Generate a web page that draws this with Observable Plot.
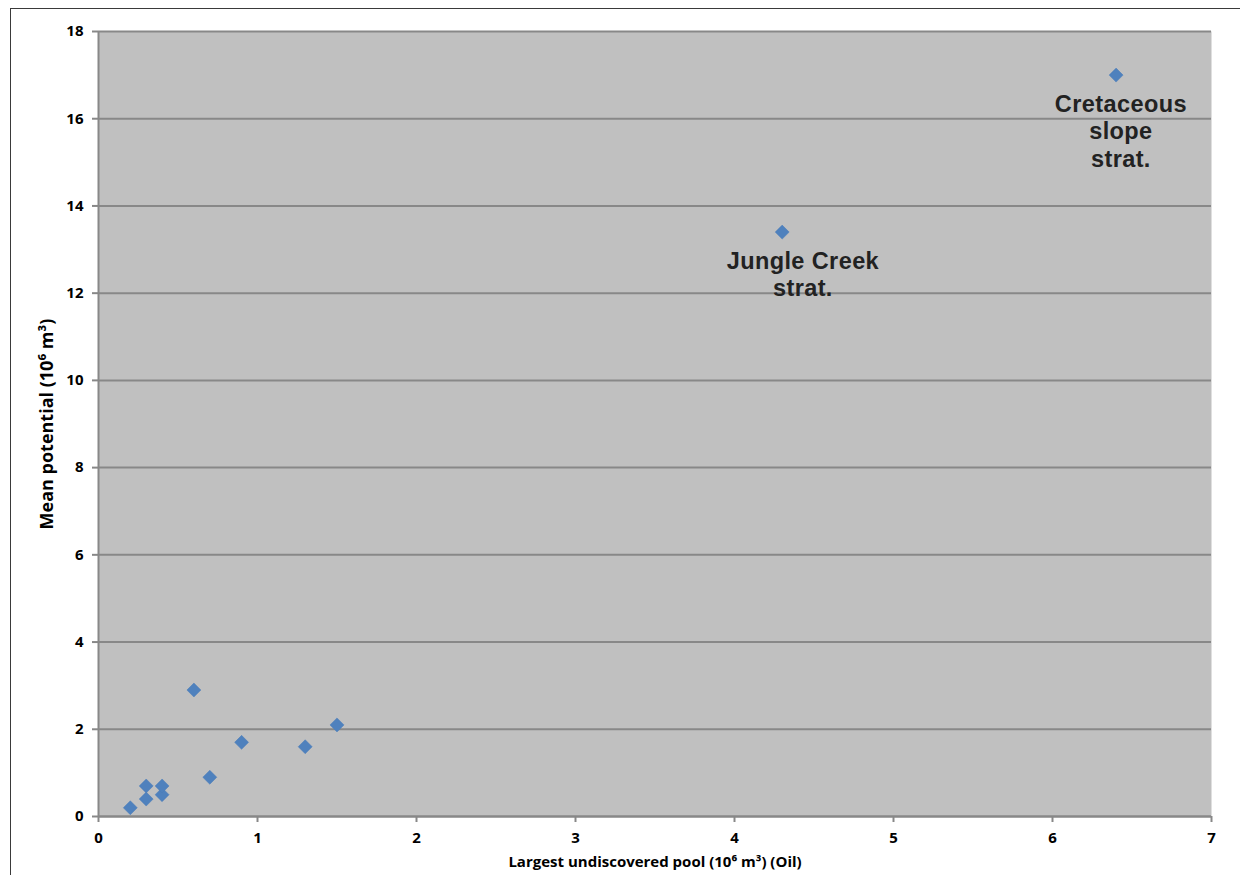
<!DOCTYPE html>
<html>
<head>
<meta charset="utf-8">
<script src="https://cdn.jsdelivr.net/npm/d3@7"></script>
<script src="https://cdn.jsdelivr.net/npm/@observablehq/plot@0.6"></script>
<style>
  html, body { margin: 0; padding: 0; background: #fff; overflow: hidden; }
  #wrap { position: relative; width: 1240px; height: 875px; }
  #frame { position: absolute; left: 10px; top: 8px; width: 1300px; height: 950px; border: 1.5px solid #3a3a3a; box-sizing: border-box; }
  #chart { position: absolute; left: 0; top: 0; }
  .ptlabel text { letter-spacing: 0.4px; }
</style>
</head>
<body>
<div id="wrap"><div id="frame"></div><div id="chart"></div></div>
<script>
// Data
const largestPool = [0.2, 0.3, 0.3, 0.4, 0.4, 0.7, 0.6, 0.9, 1.3, 1.5, 4.3, 6.4];
const meanPotential = [0.2, 0.4, 0.7, 0.5, 0.7, 0.9, 2.9, 1.7, 1.6, 2.1, 13.4, 17.0];

const labelNames = ["Jungle Creek\nstrat.", "Cretaceous\nslope\nstrat."];
const labelX = [4.43, 6.43];
const labelY = [13.4, 17.0];

const xTicks = [0, 1, 2, 3, 4, 5, 6, 7];
const yTicks = [0, 2, 4, 6, 8, 10, 12, 14, 16, 18];

const xTitle = "Largest undiscovered pool (10\u2076 m\u00B3) (Oil)";
const yTitle = "Mean potential (10\u2076 m\u00B3)";

const points = largestPool.map((x, i) => ({x, y: meanPotential[i]}));
const labels = labelNames.map((t, i) => ({text: t, x: labelX[i], y: labelY[i]}));

const font = "'Open Sans', 'DejaVu Sans', sans-serif";
const grey = "#888888";

const chart = Plot.plot({
  width: 1240,
  height: 875,
  marginLeft: 98,
  marginRight: 29,
  marginTop: 31,
  marginBottom: 59,
  style: {fontFamily: font, background: "transparent", overflow: "visible"},
  x: {domain: [0, 7]},
  y: {domain: [0, 18]},
  marks: [
    Plot.frame({fill: "#c0c0c0", stroke: null}),
    Plot.gridY(yTicks, {stroke: grey, strokeOpacity: 1, strokeWidth: 2}),
    Plot.ruleX([0], {stroke: grey, strokeWidth: 2}),
    Plot.ruleY([0], {stroke: grey, strokeWidth: 2}),
    Plot.axisY({ticks: yTicks, tickSize: 6, tickPadding: 9, stroke: grey, strokeWidth: 2, fill: "#000",
      fontSize: 15, fontWeight: "bold", label: null, tickFormat: d3.format("d")}),
    Plot.axisX({ticks: xTicks, tickSize: 6, tickPadding: 10, stroke: grey, strokeWidth: 2, fill: "#000",
      fontSize: 15, fontWeight: "bold", label: null, tickFormat: d3.format("d")}),
    Plot.text([yTitle], {frameAnchor: "left", dx: -51, rotate: -90, textAnchor: "middle", text: d => d,
      fontSize: 18, fontWeight: "bold", fill: "#000"}),
    Plot.text([xTitle], {frameAnchor: "bottom", dy: 50, textAnchor: "middle", text: d => d,
      fontSize: 15, fontWeight: "bold", fill: "#000"}),
    Plot.dot(points, {x: "x", y: "y", symbol: "diamond2", r: 6.3, fill: "#4f81bd", stroke: "#4a7db8", strokeWidth: 0.5}),
    Plot.text(labels, {x: "x", y: "y", text: "text", dy: 17, lineAnchor: "top", lineHeight: 1.17,
      fontSize: 23.5, fontWeight: "bold", fill: "#222", className: "ptlabel",
      fontFamily: "'Liberation Sans', Arial, sans-serif"})
  ]
});
document.getElementById("chart").appendChild(chart);
</script>
</body>
</html>
